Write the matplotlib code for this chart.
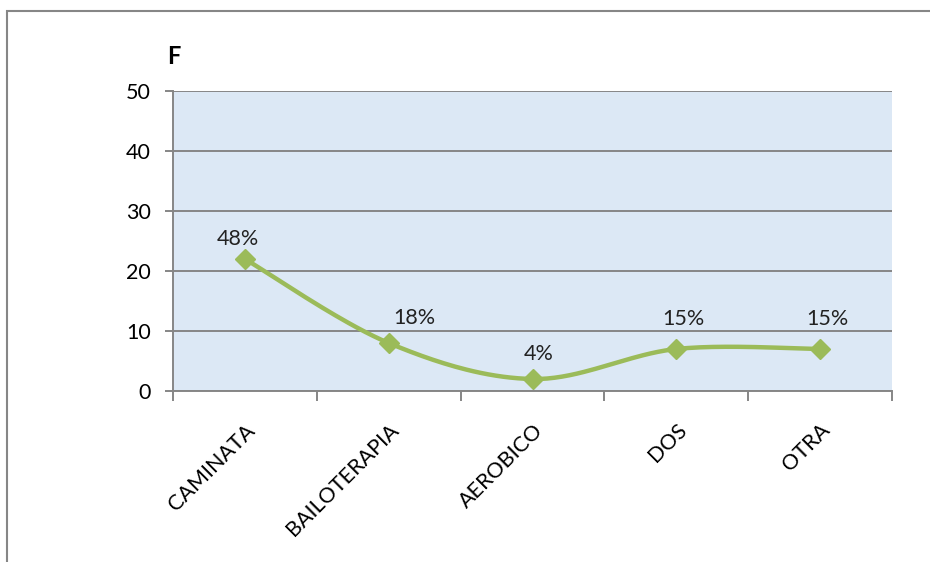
import matplotlib.pyplot as plt
import matplotlib.patches as mpatches
import numpy as np

plt.rcParams['font.family'] = ['Lato', 'DejaVu Sans']

categories = ['CAMINATA', 'BAILOTERAPIA', 'AEROBICO', 'DOS', 'OTRA']
frecuencia = [22, 8, 2, 7, 7]
porcentajes = ['48%', '18%', '4%', '15%', '15%']
yticks = [0, 10, 20, 30, 40, 50]

# desplazamiento de etiquetas (px)
label_dx = [-7, 26, 6, 7, 7]
label_dy = [20, 25, 25, 30, 30]

GREEN = '#9bbb59'
GRAY = '#868686'


def smooth_curve(xs, ys, n=40):
    # curva suave tipo Excel (Catmull-Rom -> Bezier)
    pts = np.column_stack([xs, ys]).astype(float)
    pts_ext = np.vstack([pts[0], pts, pts[-1]])
    out = []
    for i in range(1, len(pts_ext) - 2):
        p0, p1, p2, p3 = pts_ext[i - 1], pts_ext[i], pts_ext[i + 1], pts_ext[i + 2]
        c1 = p1 + (p2 - p0) / 6
        c2 = p2 - (p3 - p1) / 6
        t = np.linspace(0, 1, n)[:, None]
        seg = ((1 - t) ** 3) * p1 + 3 * ((1 - t) ** 2) * t * c1 + 3 * (1 - t) * t ** 2 * c2 + t ** 3 * p2
        out.append(seg)
    out = np.vstack(out)
    return out[:, 0], out[:, 1]


fig = plt.figure(figsize=(9.3, 5.62), dpi=100)
W, H = 930, 562
ax = fig.add_axes([173 / W, (H - 391) / H, (892 - 173) / W, 300 / H])

# marco exterior
fig.patches.append(mpatches.Rectangle((7 / W, -0.1), 1.2, 1.1 - 11 / H,
                                      transform=fig.transFigure, fill=False,
                                      edgecolor=GRAY, lw=1.5, zorder=0))

ax.set_facecolor('#dce8f5')
x = np.arange(len(categories))

# curva suave calculada en coordenadas de pantalla
ax.set_xlim(-0.5, len(categories) - 0.5)
ax.set_ylim(0, 50)
fig.canvas.draw()
disp = ax.transData.transform(np.column_stack([x, frecuencia]))
sx, sy = smooth_curve(disp[:, 0], disp[:, 1])
curve = ax.transData.inverted().transform(np.column_stack([sx, sy]))
ax.plot(curve[:, 0], curve[:, 1], color=GREEN, lw=3.2, solid_capstyle='round', zorder=3)
ax.plot(x, frecuencia, linestyle='none', marker='D', color=GREEN, markersize=10.5, zorder=4)

for i, (xi, yi) in enumerate(zip(x, frecuencia)):
    ax.annotate(porcentajes[i], (xi, yi), xytext=(label_dx[i] * 0.72, label_dy[i] * 0.72),
                textcoords='offset points', ha='center', va='center',
                fontsize=15.5, color='#222222', zorder=5)

ax.set_yticks(yticks)
ax.yaxis.grid(True, color=GRAY, lw=1.4)
ax.set_axisbelow(True)
ax.tick_params(axis='y', length=6, color=GRAY, width=1.4, labelsize=15.5, pad=10)

ax.set_xticks(np.arange(len(categories) + 1) - 0.5)
ax.set_xticklabels([])
ax.tick_params(axis='x', which='major', length=7, color=GRAY, width=1.4)
ax.set_xticks(x, minor=True)
ax.set_xticklabels(categories, minor=True, rotation=45, ha='right', va='top',
                   rotation_mode='anchor', fontsize=15.5)
ax.tick_params(axis='x', which='minor', length=0, pad=21)

for s in ['top', 'right']:
    ax.spines[s].set_visible(False)
for s in ['left', 'bottom']:
    ax.spines[s].set_color(GRAY)
    ax.spines[s].set_linewidth(1.4)

fig.text(174 / W, 1 - 57 / H, 'F', ha='center', va='center', fontsize=17, fontweight='bold')

fig.savefig('out.png', dpi=100)
